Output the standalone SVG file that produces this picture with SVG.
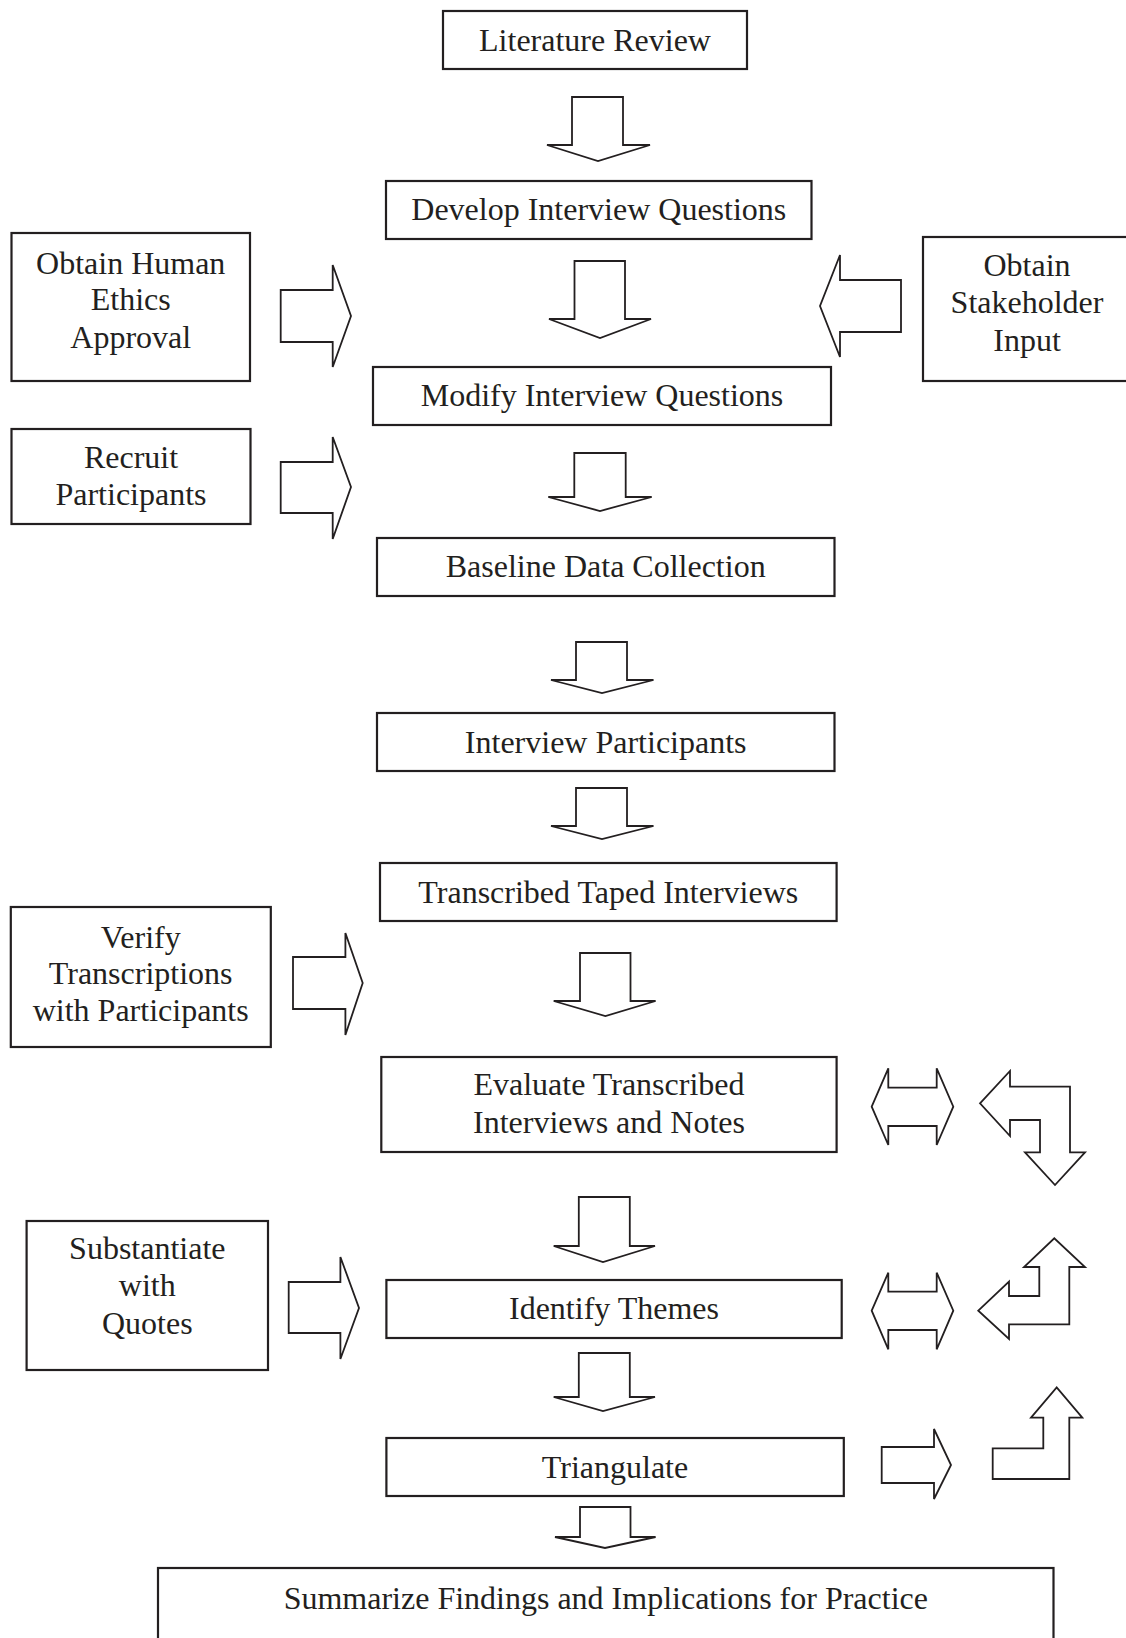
<svg xmlns="http://www.w3.org/2000/svg" width="1126" height="1638" viewBox="0 0 1126 1638">
<style>
.box{fill:#fff;stroke:#231f20;stroke-width:2.2}
.arr{fill:#fff;stroke:#231f20;stroke-width:1.8;stroke-linejoin:miter}
text{font-family:"Liberation Serif","Times New Roman",serif;font-size:32px;fill:#231f20;text-anchor:middle}
</style>
<rect width="1126" height="1638" fill="#fff"/>
<g id="connectors">
<polygon class="arr" points="572,97 623,97 623,145 650,145 598,161 547,145 572,145"/>
<polygon class="arr" points="574.5,261 625,261 625,319 651,319 600,338 549,319 574.5,319"/>
<polygon class="arr" points="574.3,453 625.7,453 625.7,497 651.7,497 600,511 548.3,497 574.3,497"/>
<polygon class="arr" points="576,642 627,642 627,680 653.5,680 602,693 551,680 576,680"/>
<polygon class="arr" points="576,788 627,788 627,826 653.5,826 602,839 551,826 576,826"/>
<polygon class="arr" points="580,953 630.5,953 630.5,1001 655.6,1001 605.4,1016 553.7,1001 580,1001"/>
<polygon class="arr" points="578.8,1197 629.8,1197 629.8,1246 655,1246 603,1262 553.7,1246 578.8,1246"/>
<polygon class="arr" points="578.8,1353 629.8,1353 629.8,1397 655,1397 603,1411 553.7,1397 578.8,1397"/>
<polygon class="arr" points="580,1507 630.5,1507 630.5,1537 655.6,1537 605,1548 555,1537 580,1537"/>
<polygon class="arr" points="280.7,290 332.7,290 332.7,265 351,316 332.7,367 332.7,342 280.7,342"/>
<polygon class="arr" points="280.7,462 332.7,462 332.7,437 351,487 332.7,539 332.7,513 280.7,513"/>
<polygon class="arr" points="293,957 345.4,957 345.4,933 362.7,983 345.4,1035 345.4,1009 293,1009"/>
<polygon class="arr" points="288.7,1282 340.4,1282 340.4,1257 359,1308 340.4,1359 340.4,1333 288.7,1333"/>
<polygon class="arr" points="901,280 840,280 840,255 820,306 840,357 840,332 901,332"/>
<polygon class="arr" points="881.7,1447 934,1447 934,1429 951,1465 934,1499 934,1483 881.7,1483"/>
<polygon class="arr" points="871.7,1106.7 888.3,1068.3 888.3,1087.7 936.7,1087.7 936.7,1068.3 953.3,1106.7 936.7,1145 936.7,1126 888.3,1126 888.3,1145"/>
<polygon class="arr" points="871.7,1310.7 888.3,1272.7 888.3,1291.7 936.7,1291.7 936.7,1272.7 953.3,1310.7 936.7,1349.3 936.7,1330 888.3,1330 888.3,1349.3"/>
<polygon class="arr" points="980,1103.3 1010,1071 1010,1086.7 1070,1086.7 1070,1152.3 1085,1152.3 1055,1185 1025,1152.3 1040,1152.3 1040,1120 1010,1120 1010,1136"/>
<polygon class="arr" points="978.3,1310.7 1009,1281.7 1009,1296 1039.3,1296 1039.3,1267 1024,1267 1054.3,1238.3 1085,1267 1069.3,1267 1069.3,1324.3 1009,1324.3 1009,1339"/>
<polygon class="arr" points="992.7,1479 992.7,1448.3 1043.3,1448.3 1043.3,1417.7 1031,1417.7 1056.7,1387.3 1082.3,1417.7 1069.3,1417.7 1069.3,1479"/>
</g>
<g id="literature-review"><rect class="box" x="443" y="11" width="304" height="58"/><text x="595" y="51">Literature Review</text></g>
<g id="develop-questions"><rect class="box" x="386" y="181" width="425.5" height="58"/><text x="598.8" y="220">Develop Interview Questions</text></g>
<g id="ethics-approval"><rect class="box" x="11.5" y="233" width="238.5" height="148"/><text x="130.7" y="273.5">Obtain Human</text><text x="130.7" y="310">Ethics</text><text x="130.7" y="347.5">Approval</text></g>
<g id="stakeholder-input"><rect class="box" x="923" y="237" width="220" height="144"/><text x="1027" y="276">Obtain</text><text x="1027" y="313">Stakeholder</text><text x="1027" y="350.5">Input</text></g>
<g id="modify-questions"><rect class="box" x="373" y="367" width="458" height="58"/><text x="602" y="406">Modify Interview Questions</text></g>
<g id="recruit-participants"><rect class="box" x="11.5" y="429" width="239" height="95"/><text x="131" y="467.5">Recruit</text><text x="131" y="505">Participants</text></g>
<g id="baseline-data"><rect class="box" x="377" y="538" width="457.5" height="58"/><text x="605.7" y="577">Baseline Data Collection</text></g>
<g id="interview-participants"><rect class="box" x="377" y="713" width="457.5" height="58"/><text x="605.7" y="753">Interview Participants</text></g>
<g id="transcribed-interviews"><rect class="box" x="380" y="863" width="456.6" height="58"/><text x="608.3" y="902.5">Transcribed Taped Interviews</text></g>
<g id="verify-transcriptions"><rect class="box" x="10.8" y="907" width="260" height="140"/><text x="140.7" y="947.5">Verify</text><text x="140.7" y="984">Transcriptions</text><text x="140.7" y="1021">with Participants</text></g>
<g id="evaluate-transcribed"><rect class="box" x="381.3" y="1057" width="455.3" height="95"/><text x="609" y="1095">Evaluate Transcribed</text><text x="609" y="1132.5">Interviews and Notes</text></g>
<g id="substantiate-quotes"><rect class="box" x="26.6" y="1221" width="241.4" height="149"/><text x="147.3" y="1259">Substantiate</text><text x="147.3" y="1296">with</text><text x="147.3" y="1334">Quotes</text></g>
<g id="identify-themes"><rect class="box" x="386.4" y="1280" width="455.3" height="58"/><text x="614" y="1319">Identify Themes</text></g>
<g id="triangulate"><rect class="box" x="386.4" y="1438" width="457.4" height="58"/><text x="615" y="1477.5">Triangulate</text></g>
<g id="summarize-findings"><rect class="box" x="158" y="1568" width="895.5" height="80"/><text x="605.8" y="1609">Summarize Findings and Implications for Practice</text></g>
</svg>
